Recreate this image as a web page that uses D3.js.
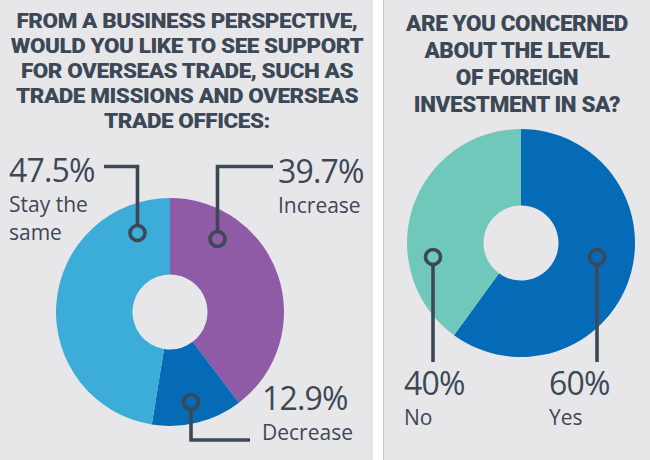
<!DOCTYPE html>
<html>
<head>
<meta charset="utf-8">
<script src="https://cdn.jsdelivr.net/npm/d3@7"></script>
<style>
  html, body { margin: 0; padding: 0; background: #ffffff; }
  svg { display: block; }
</style>
</head>
<body>
<svg id="chart" width="650" height="460"></svg>
<script>
// ---------- DATA ----------
const title1Lines = ["FROM A BUSINESS PERSPECTIVE,", "WOULD YOU LIKE TO SEE SUPPORT", "FOR OVERSEAS TRADE, SUCH AS", "TRADE MISSIONS AND OVERSEAS", "TRADE OFFICES:"];
const chart1Categories = ["Increase", "Decrease", "Stay the same"];
const chart1Values = [39.7, 12.9, 47.5];
const chart1ValueLabels = ["39.7%", "12.9%", "47.5%"];

const title2Lines = ["ARE YOU CONCERNED", "ABOUT THE LEVEL", "OF FOREIGN", "INVESTMENT IN SA?"];
const chart2Categories = ["Yes", "No"];
const chart2Values = [60, 40];
const chart2ValueLabels = ["60%", "40%"];

// ---------- STYLE / LAYOUT ----------
const ink = "#3d4857";
const panelBg = "#e7e7e9";
const colors1 = d3.scaleOrdinal().domain(chart1Categories).range(["#8f5ba7", "#056bb6", "#3cadd8"]);
const colors2 = d3.scaleOrdinal().domain(chart2Categories).range(["#056bb6", "#70c8ba"]);

const svg = d3.select("#chart");

// panels
svg.append("rect").attr("x", 0).attr("y", 0).attr("width", 373).attr("height", 460).attr("fill", panelBg);
svg.append("rect").attr("x", 383).attr("y", 0).attr("width", 267).attr("height", 460).attr("fill", panelBg);
svg.append("line").attr("x1", 383.5).attr("x2", 383.5).attr("y1", 0).attr("y2", 460)
  .attr("stroke", "#c9c9cc").attr("stroke-width", 1);

// titles
const titleFont = "Roboto, 'Liberation Sans', sans-serif";
function drawTitle(lines, cx, y0, step, size, targetFirst) {
  const g = svg.append("g");
  const texts = g.selectAll("text").data(lines).join("text")
    .attr("x", cx).attr("y", (d, i) => y0 + i * step)
    .attr("text-anchor", "middle")
    .attr("font-family", titleFont).attr("font-weight", 900)
    .attr("font-size", size).attr("fill", ink)
    .attr("letter-spacing", -0.4)
    .text(d => d);
  const nodes = texts.nodes();
  const k = targetFirst / nodes[0].getComputedTextLength();
  nodes.forEach(n => {
    const w = n.getComputedTextLength();
    d3.select(n).attr("textLength", w * k).attr("lengthAdjust", "spacingAndGlyphs");
  });
}
drawTitle(title1Lines, 187, 28, 25, 20.5, 341);
drawTitle(title2Lines, 517, 31, 27, 22.5, 222);

// donuts
const pie = d3.pie().sort(null).value(d => d.value);
const R = 114, r0 = 37.5;
const arc = d3.arc().innerRadius(r0).outerRadius(R);

function drawDonut(cx, cy, cats, vals, color) {
  const data = cats.map((c, i) => ({ cat: c, value: vals[i] }));
  const g = svg.append("g").attr("transform", `translate(${cx},${cy})`);
  g.selectAll("path").data(pie(data)).join("path")
    .attr("d", arc).attr("fill", d => color(d.data.cat));
  return g;
}
const c1 = { x: 170, y: 312 };
const c2 = { x: 521, y: 243 };
drawDonut(c1.x, c1.y, chart1Categories, chart1Values, colors1);
drawDonut(c2.x, c2.y, chart2Categories, chart2Values, colors2);

// leaders & labels (layout only)
const labelFont = "'Open Sans', 'Noto Sans', sans-serif";
function leader(points, dot, fill) {
  svg.append("path").attr("d", d3.line()(points))
    .attr("fill", "none").attr("stroke", ink).attr("stroke-width", 3.6)
    .attr("stroke-linejoin", "miter").attr("stroke-linecap", "butt");
  svg.append("circle").attr("cx", dot[0]).attr("cy", dot[1]).attr("r", 7.5)
    .attr("fill", fill).attr("stroke", ink).attr("stroke-width", 3.6);
}
function label(x, y, big, lines, anchor) {
  svg.append("text").attr("x", x).attr("y", y).attr("text-anchor", anchor || "start")
    .attr("font-family", labelFont).attr("font-size", 32).attr("fill", ink)
    .attr("letter-spacing", -0.8).text(big);
  lines.forEach((t, i) => {
    svg.append("text").attr("x", x).attr("y", y + 30 + i * 28).attr("text-anchor", anchor || "start")
      .attr("font-family", labelFont).attr("font-size", 21).attr("fill", ink).text(t);
  });
}

// chart 1
leader([[104, 166.5], [137.5, 166.5], [137.5, 226]], [137.5, 233], colors1("Stay the same"));
label(9, 182, chart1ValueLabels[2], ["Stay the", "same"]);
leader([[273, 166.5], [217.5, 166.5], [217.5, 232]], [217.5, 239], colors1("Increase"));
label(278, 183, chart1ValueLabels[0], [chart1Categories[0]]);
leader([[191, 409], [191, 440], [250, 440]], [191, 402], colors1("Decrease"));
label(262, 410, chart1ValueLabels[1], [chart1Categories[1]]);

// chart 2
leader([[433, 264], [433, 362]], [433, 257], colors2("No"));
label(404, 395, chart2ValueLabels[1], [chart2Categories[1]]);
leader([[597, 264], [597, 362]], [597, 257], colors2("Yes"));
label(549, 395, chart2ValueLabels[0], [chart2Categories[0]]);
</script>
</body>
</html>
